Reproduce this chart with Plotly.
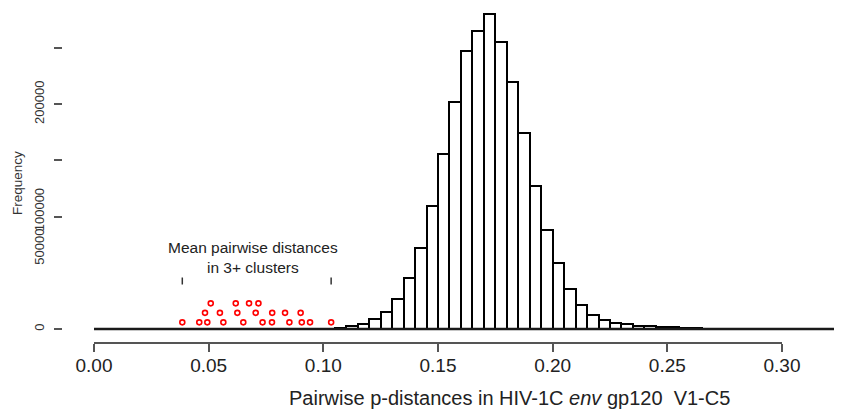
import plotly.graph_objects as go

# ---------------- data ----------------
bin_width = 0.005
bin_left = [0.105, 0.110, 0.115, 0.120, 0.125, 0.130, 0.135, 0.140, 0.145, 0.150,
            0.155, 0.160, 0.165, 0.170, 0.175, 0.180, 0.185, 0.190, 0.195, 0.200,
            0.205, 0.210, 0.215, 0.220, 0.225, 0.230, 0.235, 0.240, 0.245, 0.250,
            0.255, 0.260, 0.265]
counts = [1200, 2600, 4400, 9000, 15200, 26700, 45100, 71800, 109700, 155700,
          202200, 247600, 265100, 280300, 255100, 220000, 174700, 127200, 88100, 58400,
          35300, 21700, 12800, 7700, 5300, 4200, 2900, 2300, 1900, 1500,
          1200, 1000, 400]
hist_range = [0.0, 0.335]   # full extent of histogram breaks (zero-count bins)

# mean pairwise distances in 3+ clusters (stacked strip chart)
cluster_means = [0.0385, 0.0459, 0.0494, 0.0564, 0.0651, 0.0735, 0.0776, 0.0852, 0.0906, 0.0942, 0.1034,
                 0.0484, 0.0549, 0.0625, 0.0705, 0.0777, 0.0833, 0.0901,
                 0.0509, 0.0618, 0.0676, 0.0717]
stack_level = [1, 1, 1, 1, 1, 1, 1, 1, 1, 1, 1,
               2, 2, 2, 2, 2, 2, 2,
               3, 3, 3, 3]

x_ticks = [0.00, 0.05, 0.10, 0.15, 0.20, 0.25, 0.30]
y_ticks = [0, 100000, 150000, 200000, 250000]
y_label_text = ["0", "50000", "100000", "200000"]
y_label_pos = [0, 71600, 104500, 200000]

# ---------------- styling ----------------
FONT = "Liberation Sans, Arial, Helvetica, sans-serif"
stack_step = 8450
x_range = [-0.01352, 0.32616]
y_range = [-11566, 285587]
PLOT_W = 779

fig = go.Figure()

# baseline of zero-count bins
fig.add_trace(go.Scatter(x=hist_range, y=[0, 0], mode="lines",
                         line=dict(color="#1a1a1a", width=2.5),
                         hoverinfo="skip", showlegend=False))

# histogram bars
fig.add_trace(go.Bar(x=[b + bin_width / 2 for b in bin_left], y=counts, width=bin_width,
                     marker=dict(color="white", line=dict(color="black", width=2)),
                     showlegend=False))

# stacked red points
pt_y = [(lv - 0.3) * stack_step for lv in stack_level]
fig.add_trace(go.Scatter(x=cluster_means, y=pt_y, mode="markers",
                         marker=dict(symbol="circle-open", size=5, color="red",
                                     line=dict(color="red", width=1.6)),
                         showlegend=False))

# range markers (min / max of cluster means)
fig.add_trace(go.Scatter(x=[min(cluster_means), max(cluster_means)], y=[42700, 42700],
                         mode="markers",
                         marker=dict(symbol="line-ns", size=5, color="#333",
                                     line=dict(color="#333", width=1.5)),
                         showlegend=False))

# dummy traces to activate helper axes
fig.add_trace(go.Scatter(x=[0, 0.3], y=[None, None], xaxis="x2", yaxis="y",
                         showlegend=False, hoverinfo="skip"))
fig.add_trace(go.Scatter(x=[0], y=[None], xaxis="x", yaxis="y2",
                         showlegend=False, hoverinfo="skip"))

fig.add_annotation(text="Mean pairwise distances<br>in 3+ clusters",
                   x=0.0693, y=63200, xref="x", yref="y", showarrow=False,
                   font=dict(family=FONT, size=15.5, color="#222"))

fig.add_annotation(text="Pairwise p-distances in HIV-1C <i>env</i> gp120\u00a0 V1-C5",
                   x=0.181, y=-0.1677, xref="x", yref="paper", showarrow=False,
                   yanchor="middle", font=dict(family=FONT, size=20, color="#222"))

fig.add_annotation(text="Frequency", textangle=-90, x=-46 / PLOT_W, y=0.476,
                   xref="paper", yref="paper", showarrow=False,
                   xanchor="center", yanchor="middle",
                   font=dict(family=FONT, size=13.5, color="#333"))

fig.update_layout(
    width=834, height=401,
    margin=dict(l=55, r=0, t=0, b=67, autoexpand=False),
    paper_bgcolor="white", plot_bgcolor="rgba(0,0,0,0)",
    bargap=0,
    xaxis=dict(range=x_range, visible=False),
    xaxis2=dict(domain=[31 / 779, 719 / 779], range=[0, 0.3], anchor="y",
                tickvals=x_ticks, ticktext=[f"{v:.2f}" for v in x_ticks],
                showline=True, linecolor="#555", linewidth=1.5,
                ticks="outside", ticklen=8, tickwidth=1.5, tickcolor="#555",
                ticklabelstandoff=-3,
                tickfont=dict(family=FONT, size=19, color="#222"),
                showgrid=False, zeroline=False),
    yaxis=dict(range=y_range, tickvals=y_ticks, ticks="outside", ticklen=8,
               tickwidth=1.5, tickcolor="#555", showticklabels=False,
               showgrid=False, zeroline=False, showline=False),
    yaxis2=dict(range=y_range, overlaying="y", side="left", anchor="x",
                tickvals=y_label_pos, ticktext=y_label_text, ticks="",
                tickangle=-90, ticklabelstandoff=15,
                tickfont=dict(family=FONT, size=13, color="#333"),
                showgrid=False, zeroline=False, showline=False),
)

fig.write_html("out.html")
